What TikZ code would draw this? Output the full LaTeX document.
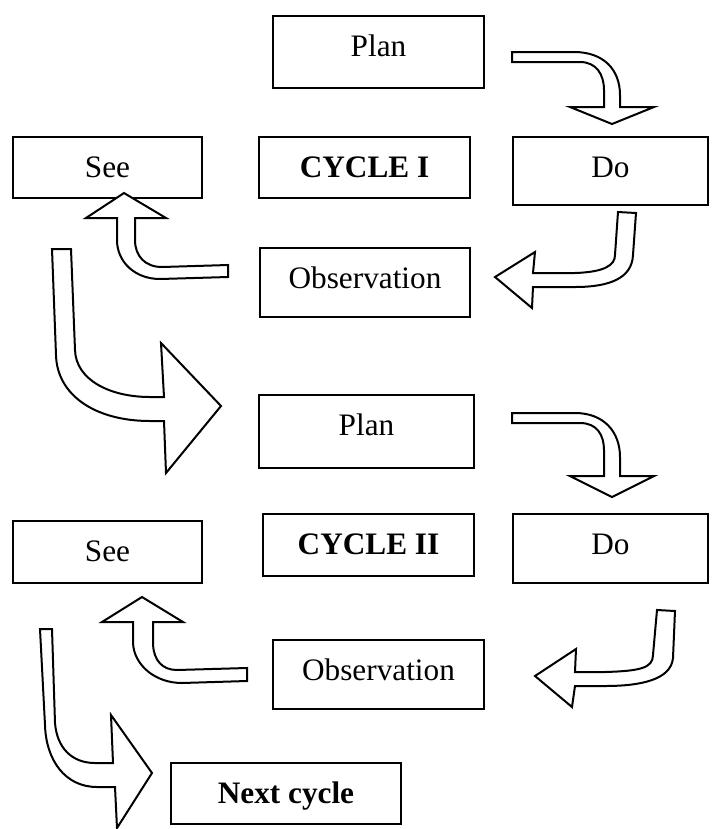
\documentclass[tikz,border=0pt]{standalone}
\usepackage{fontspec}
\setmainfont{Liberation Serif}
\tikzset{%
	box/.style      = {draw, thick, rectangle, inner sep=0pt, anchor=north west, text height=16pt, text centered, font=\fontsize{12.5}{15}\selectfont},
	bigarrow/.style = {draw, thick, fill=white, line join=miter},
}
\begin{document}
\begin{tikzpicture}[x=0.4pt,y=-0.4pt]
		\useasboundingbox (0,0) rectangle (717,829);
		% cycle I
		\node[box, minimum width=84.4pt, text depth=12.8pt] (plan1) at (272,15)  {Plan};
		\node[box, minimum width=75.6pt, text depth=8.4pt]  (see1)  at (12,136)  {See};
		\node[box, minimum width=84.4pt, text depth=8.4pt]  (cyc1)  at (258,136) {\textbf{CYCLE I}};
		\node[box, minimum width=78pt,   text depth=11.2pt] (do1)   at (512,136) {Do};
		\node[box, minimum width=84pt,   text depth=11.6pt] (obs1)  at (259,247) {Observation};
		% cycle II
		\node[box, minimum width=86pt,   text depth=13.2pt] (plan2) at (258,394) {Plan};
		\node[box, minimum width=75.6pt, text depth=8.8pt]  (see2)  at (12,520)  {See};
		\node[box, minimum width=84.4pt, text depth=8.8pt]  (cyc2)  at (262,513) {\textbf{CYCLE II}};
		\node[box, minimum width=78pt,   text depth=11.6pt] (do2)   at (512,513) {Do};
		\node[box, minimum width=84.4pt, text depth=11.6pt] (obs2)  at (272,639) {Observation};
		\node[box, minimum width=92pt,   text depth=8.4pt]  (next)  at (170,762) {\textbf{Next cycle}};
		% plan -> do
		\draw[bigarrow] (512,52) -- (574,52) .. controls (604,52) and (620,70) .. (620,95) -- (620,107) -- (654,107) -- (612,124) -- (570,107) -- (604,107) -- (604,90) .. controls (604,74) and (596,62) .. (580,62) -- (512,62) -- cycle;
		\draw[bigarrow] (512,413) -- (575,413) .. controls (604,413) and (620,432) .. (620,457) -- (620,476) -- (654,476) -- (612,497) -- (570,476) -- (604,476) -- (604,450) .. controls (604,435) and (597,423) .. (580,423) -- (512,423) -- cycle;
		% do -> observation
		\draw[bigarrow] (618,212) -- (636,213) -- (633,255) .. controls (632,278) and (610,287) .. (575,287) -- (533,287) -- (532,308) -- (495,277) -- (535,252) -- (533,273) -- (575,273) .. controls (605,272) and (615,265) .. (615,255) -- cycle;
		\draw[bigarrow] (657,610) -- (675,611) -- (673,658) .. controls (671,680) and (640,686) .. (605,686) -- (575,686) -- (572,707) -- (535,676) -- (576,649) -- (575,672) -- (605,672) .. controls (640,671) and (653,668) .. (653,655) -- cycle;
		% observation -> see
		\draw[bigarrow] (228,265) -- (228,277) -- (160,279) .. controls (135,279) and (117,262) .. (117,240) -- (117,218) -- (86,218) -- (124,193) -- (166,218) -- (135,218) -- (135,240) .. controls (135,256) and (145,267) .. (162,267) -- cycle;
		\draw[bigarrow] (247,668) -- (247,681) -- (182,683) .. controls (155,683) and (134,665) .. (133,643) -- (133,622) -- (102,622) -- (142,597) -- (183,622) -- (153,622) -- (153,645) .. controls (154,660) and (162,670) .. (177,670) -- cycle;
		% see -> next plan
		\draw[bigarrow] (52,249) -- (71,249) -- (75,350) .. controls (76,380) and (110,397) .. (150,397) -- (164,397) -- (161,343) -- (221,406) -- (166,473) -- (164,421) -- (150,421) .. controls (95,421) and (57,395) .. (56,355) -- cycle;
		\draw[bigarrow] (40,629) -- (52,629) -- (55,723) .. controls (57,748) and (72,763) .. (95,763) -- (113,763) -- (111,715) -- (152,773) -- (117,828) -- (115,787) -- (97,787) .. controls (65,787) and (46,760) .. (45,725) -- cycle;
\end{tikzpicture}
\end{document}
